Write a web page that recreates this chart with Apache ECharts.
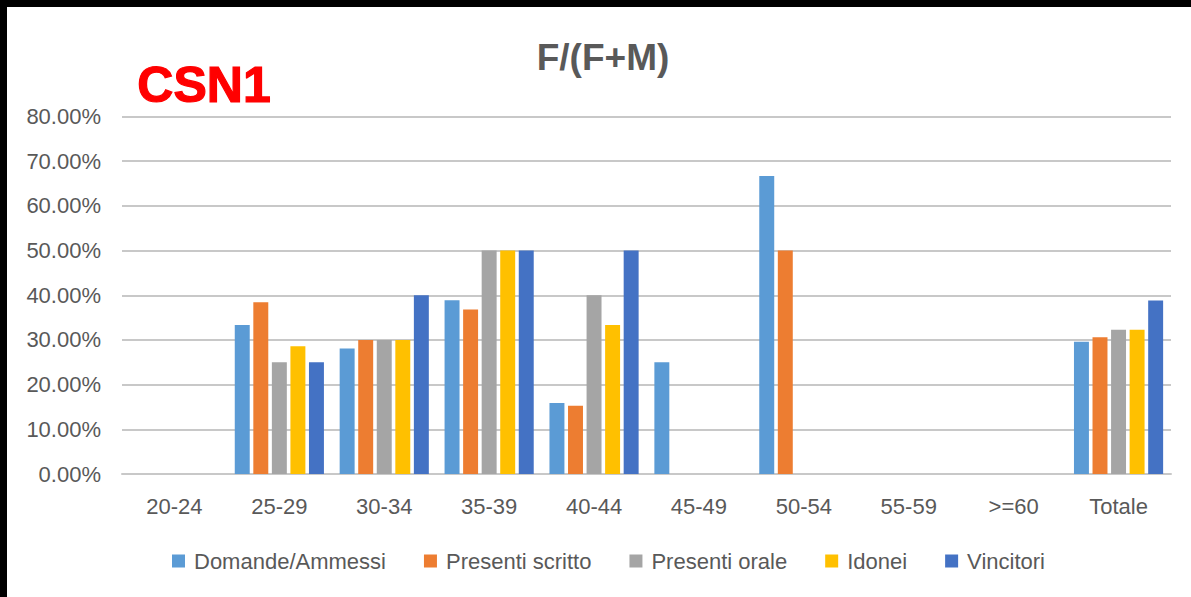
<!DOCTYPE html>
<html>
<head>
<meta charset="utf-8">
<title>CSN1 - F/(F+M)</title>
<script src="https://cdn.jsdelivr.net/npm/echarts@6/dist/echarts.min.js"></script>
<style>
  html, body { margin: 0; padding: 0; background: #000; }
  #chart { position: absolute; left: 7px; top: 7px; width: 1184px; height: 590px; background: #fff; }
</style>
</head>
<body>
<div id="chart"></div>
<script>
// Age brackets on the x axis
const categories = ['20-24', '25-29', '30-34', '35-39', '40-44', '45-49', '50-54', '55-59', '>=60', 'Totale'];

// Share of women, F/(F+M), in percent, for each stage of the selection
const domandeAmmessi   = [0, 33.33, 28.1, 38.9, 15.9, 25, 66.67, 0, 0, 29.6];
const presentiScritto  = [0, 38.46, 30, 36.8, 15.3, 0, 50, 0, 0, 30.6];
const presentiOrale    = [0, 25, 30, 50, 40, 0, 0, 0, 0, 32.3];
const idonei           = [0, 28.57, 30, 50, 33.33, 0, 0, 0, 0, 32.3];
const vincitori        = [0, 25, 40, 50, 50, 0, 0, 0, 0, 38.8];

const seriesNames  = ['Domande/Ammessi', 'Presenti scritto', 'Presenti orale', 'Idonei', 'Vincitori'];
const seriesData   = [domandeAmmessi, presentiScritto, presentiOrale, idonei, vincitori];
const seriesColors = ['#5B9BD5', '#ED7D31', '#A5A5A5', '#FFC000', '#4472C4'];

// Y axis range in percent
const yMin = 0, yMax = 80, yStep = 10;

const FONT = '"Liberation Sans", Arial, sans-serif';
const LABEL_GREY = '#595959';
const GRID_GREY = '#c8c8c8';

const chart = echarts.init(document.getElementById('chart'), null, { renderer: 'svg' });

chart.setOption({
  animation: false,
  backgroundColor: '#ffffff',
  textStyle: { fontFamily: FONT },
  graphic: [
    {
      // chart title
      type: 'text',
      x: 603 - 7,
      y: 57 - 7,
      style: {
        text: 'F/(F+M)',
        font: 'bold 37px ' + FONT,
        fill: LABEL_GREY,
        align: 'center',
        verticalAlign: 'middle'
      }
    },
    {
      // sector tag
      type: 'text',
      x: 204 - 7,
      y: 85 - 7,
      style: {
        text: 'CSN1',
        font: 'bold 50px ' + FONT,
        fill: '#FF0000',
        stroke: '#FF0000',
        lineWidth: 1.2,
        align: 'center',
        verticalAlign: 'middle'
      }
    }
  ],
  grid: {
    left: 115,
    right: 20,
    top: 109.5,
    bottom: 123,
    containLabel: false
  },
  legend: {
    data: seriesNames,
    bottom: 20,
    left: 160,
    icon: 'rect',
    itemWidth: 13,
    itemHeight: 13,
    itemGap: 38,
    textStyle: {
      fontFamily: FONT,
      fontSize: 22,
      color: LABEL_GREY,
      padding: [0, 0, 0, 4]
    }
  },
  xAxis: {
    type: 'category',
    data: categories,
    axisLine: { show: true, lineStyle: { color: GRID_GREY, width: 2 } },
    axisTick: { show: false },
    axisLabel: {
      fontFamily: FONT,
      fontSize: 22,
      color: LABEL_GREY,
      margin: 21,
      interval: 0
    }
  },
  yAxis: {
    type: 'value',
    min: yMin,
    max: yMax,
    interval: yStep,
    axisLine: { show: false },
    axisTick: { show: false },
    splitLine: { show: true, lineStyle: { color: GRID_GREY, width: 2 } },
    axisLabel: {
      fontFamily: FONT,
      fontSize: 22,
      color: LABEL_GREY,
      margin: 21,
      formatter: v => v.toFixed(2) + '%'
    }
  },
  series: seriesNames.map((name, i) => ({
    name: name,
    type: 'bar',
    data: seriesData[i],
    barGap: '24%',
    barCategoryGap: '15%',
    itemStyle: { color: seriesColors[i] }
  }))
});
</script>
</body>
</html>
